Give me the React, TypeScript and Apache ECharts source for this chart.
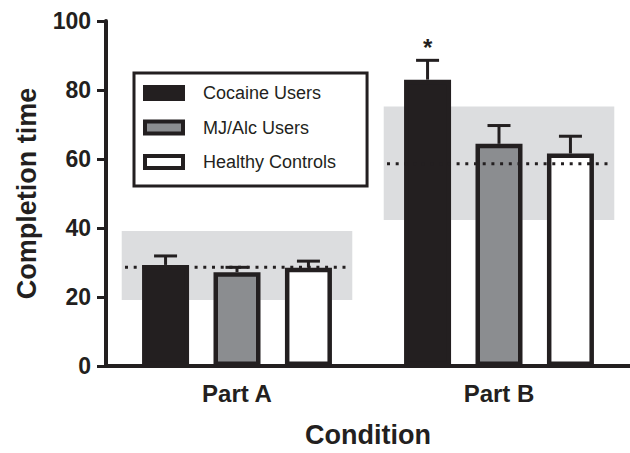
import React, { useEffect, useRef } from "react";
import * as echarts from "echarts";

const categories = ["Part A", "Part B"];
const groupNames = ["Cocaine Users", "MJ/Alc Users", "Healthy Controls"];
const cocaineMeans = [29.3, 83.0];
const cocaineUpper = [31.9, 88.6];
const mjMeans = [27.2, 64.4];
const mjUpper = [28.6, 69.7];
const healthyMeans = [28.5, 61.6];
const healthyUpper = [30.4, 66.6];
const cocaineSig = ["", "*"];
const mjSig = ["", ""];
const healthySig = ["", ""];
const normLow = [19.1, 42.3];
const normHigh = [39.1, 75.2];
const normMean = [28.6, 58.6];
const yTicks = [0, 20, 40, 60, 80, 100];

const INK = "#231f20";
const GRAY = "#8b8d90";
const BAND = "#dcdddf";
const FONT = "'Liberation Sans', Arial, Helvetica, sans-serif";
const BAR_WIDTH = 47;
const BAR_GAP = 0.52;

export default function App() {
  const ref = useRef<HTMLDivElement>(null);
  useEffect(() => {
    if (!ref.current) return;
    const chart = echarts.init(ref.current, null, { renderer: "svg" });
    const groups = [
      { name: groupNames[0], means: cocaineMeans, upper: cocaineUpper, sig: cocaineSig, fill: INK },
      { name: groupNames[1], means: mjMeans, upper: mjUpper, sig: mjSig, fill: GRAY },
      { name: groupNames[2], means: healthyMeans, upper: healthyUpper, sig: healthySig, fill: "#ffffff" },
    ];
    const barSeries = groups.map((g) => ({
      type: "bar",
      name: g.name,
      data: g.means,
      barWidth: BAR_WIDTH,
      barGap: BAR_GAP * 100 + "%",
      z: 3,
      itemStyle: { color: g.fill, borderColor: INK, borderWidth: 4.5 },
    }));
    const errSeries = groups.map((g, gi) => ({
      type: "custom",
      name: g.name + " SEM",
      z: 4,
      data: g.means.map((m, i) => [i, m, g.upper[i]]),
      renderItem: (params: any, api: any) => {
        const cat = api.value(0);
        const p0 = api.coord([cat, api.value(1)]);
        const p1 = api.coord([cat, api.value(2)]);
        const off = (gi - 1) * BAR_WIDTH * (1 + BAR_GAP);
        const x = p0[0] + off;
        const children: any[] = [
          { type: "line", shape: { x1: x, y1: p0[1], x2: x, y2: p1[1] }, style: { stroke: INK, lineWidth: 3 } },
          { type: "line", shape: { x1: x - 11.5, y1: p1[1], x2: x + 11.5, y2: p1[1] }, style: { stroke: INK, lineWidth: 3 } },
        ];
        const s = g.sig[params.dataIndex];
        if (s) {
          children.push({
            type: "text",
            x: x,
            y: p1[1] - 1,
            style: { text: s, fill: INK, fontSize: 24, fontWeight: "bold", fontFamily: FONT, align: "center", verticalAlign: "bottom" },
          });
        }
        return { type: "group", children };
      },
    }));
    const bandSeries = {
      type: "custom",
      name: "norm range",
      z: 1,
      data: categories.map((_, i) => [i, normLow[i], normHigh[i]]),
      renderItem: (params: any, api: any) => {
        const cat = api.value(0);
        const lo = api.coord([cat, api.value(1)]);
        const hi = api.coord([cat, api.value(2)]);
        const w = api.size([1, 0])[0] * 0.88;
        return {
          type: "rect",
          shape: { x: hi[0] - w / 2, y: hi[1], width: w, height: lo[1] - hi[1] },
          style: { fill: BAND },
        };
      },
    };
    const normLineSeries = {
      type: "custom",
      name: "norm mean",
      z: 5,
      data: categories.map((_, i) => [i, normMean[i]]),
      renderItem: (params: any, api: any) => {
        const cat = api.value(0);
        const p = api.coord([cat, api.value(1)]);
        const w = api.size([1, 0])[0] * 0.855;
        return {
          type: "line",
          shape: { x1: p[0] - w / 2, y1: p[1], x2: p[0] + w / 2, y2: p[1] },
          style: { stroke: INK, lineWidth: 3, lineDash: [3, 5.7], lineCap: "butt" },
        };
      },
    };
    chart.setOption({
      animation: false,
      backgroundColor: "#ffffff",
      textStyle: { fontFamily: FONT, color: INK },
      grid: { left: 106, right: 0, top: 21, bottom: 83, containLabel: false },
      legend: {
        orient: "vertical",
        left: 134,
        top: 73,
        padding: [11, 31, 15, 9],
        borderColor: INK,
        borderWidth: 3,
        backgroundColor: "#ffffff",
        itemWidth: 38,
        itemHeight: 12,
        itemGap: 16.5,
        icon: "rect",
        selectedMode: false,
        textStyle: { fontSize: 18, fontFamily: FONT, color: INK, padding: [0, 0, 0, 15], lineHeight: 18 },
        data: groups.map((g) => ({
          name: g.name,
          itemStyle: { color: g.fill, borderColor: INK, borderWidth: 4 },
        })),
      },
      xAxis: {
        type: "category",
        data: categories,
        axisLine: { lineStyle: { color: INK, width: 4 } },
        axisTick: { alignWithLabel: true, length: 9, lineStyle: { color: INK, width: 3 } },
        axisLabel: { fontSize: 24, fontWeight: "bold", color: INK, fontFamily: FONT, margin: 15 },
        name: "Condition",
        nameLocation: "middle",
        nameGap: 55,
        nameTextStyle: { fontSize: 27, fontWeight: "bold", color: INK, fontFamily: FONT },
      },
      yAxis: {
        type: "value",
        min: yTicks[0],
        max: yTicks[yTicks.length - 1],
        interval: yTicks[1] - yTicks[0],
        splitLine: { show: false },
        axisLine: { show: true, lineStyle: { color: INK, width: 4 } },
        axisTick: { show: true, length: 9, lineStyle: { color: INK, width: 3 } },
        axisLabel: { fontSize: 23, fontWeight: "bold", color: INK, fontFamily: FONT, margin: 15 },
        name: "Completion time",
        nameLocation: "middle",
        nameGap: 66,
        nameRotate: 90,
        nameTextStyle: { fontSize: 27, fontWeight: "bold", color: INK, fontFamily: FONT },
      },
      series: [bandSeries, ...barSeries, ...errSeries, normLineSeries],
    });
    return () => chart.dispose();
  }, []);
  return (
    <div
      ref={ref}
      style={{ position: "fixed", left: 0, top: 0, width: 630, height: 453, background: "#fff" }}
    />
  );
}
